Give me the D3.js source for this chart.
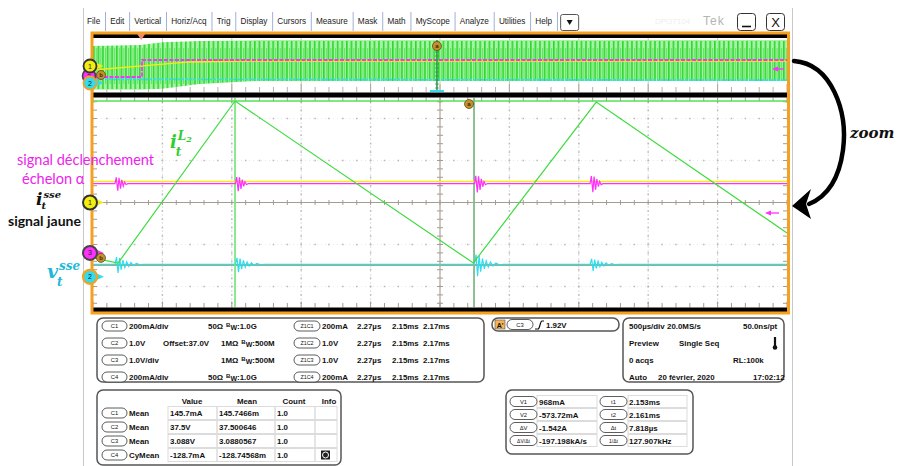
<!DOCTYPE html>
<html><head><meta charset="utf-8">
<script src="https://cdn.jsdelivr.net/npm/d3@7"></script>
<style>body{margin:0;background:#fff;overflow:hidden}svg{display:block;font-family:"Liberation Sans",Arial,sans-serif}</style>
</head><body><svg id="c" width="897" height="466"></svg>
<script>
// ---------------- DATA ----------------
const menuItems = ["File","Edit","Vertical","Horiz/Acq","Trig","Display","Cursors","Measure","Mask","Math","MyScope","Analyze","Utilities","Help"];
const zoomSpanUs = 22.7;            // 10 div x 2.27 µs/div
const overviewSpanMs = 5;           // 10 div x 500 µs/div
// main (zoom) window, values in divisions from screen centre
const greenTimeUs = [0, 0.82, 4.645, 12.44, 16.46, 22.7];
const greenDiv    = [-1.32, -1.44, 2.417, -1.44, 2.39, -0.726];
const yellowTimeUs = [0, 22.7];
const yellowDiv    = [0.50, 0.50];
const magentaLevel = 0.45;
const cyanLevel    = -1.47;
const burstTimesUs = [0.72, 4.66, 12.48, 16.26];
const magentaGain  = [1.0, 1.05, 1.25, 1.2];
const cyanGain     = [1.0, 0.9, 1.35, 0.75];
const ringOffsetsUs = [0, 0.04, 0.09, 0.13, 0.18, 0.22, 0.27, 0.31, 0.36, 0.42];
const magentaRing   = [0, 0.15, -0.17, 0.14, -0.12, 0.09, -0.06, 0.04, -0.02, 0];
const cyanOffsetsUs = [0, 0.05, 0.1, 0.15, 0.2, 0.26, 0.32, 0.38, 0.45, 0.52, 0.6, 0.7, 0.8, 0.95];
const cyanRing      = [0, 0.17, -0.21, 0.15, -0.13, 0.1, -0.08, 0.06, -0.05, 0.04, -0.03, 0.02, -0.01, 0];
const cursorTimesUs = [4.645, 12.463];
const cursorLevels  = [2.417, -1.488];
const markerLevels  = {c1: 0, c3: -1.2, c2: -1.77};
const trigArrowLevel = -0.25;
const cursorA_Us = 12.3;
// overview (500 µs/div), values in overview divisions
const ovEnvTimeMs = [0, 0.34, 0.5, 0.77, 1.13, 1.2, 5];
const ovEnvTop    = [3.5, 3.7, 4.2, 4.45, 4.6, 4.63, 4.63];
const ovEnvBottom = [-4.6, -4.6, -4.4, -3.5, -3.0, -2.96, -2.96];
const ovMagTimeMs = [0, 0.353, 0.353, 5];
const ovMagDiv    = [-2.22, -2.22, 0.93, 0.93];
const ovYelTimeMs = [0, 0.7, 1.13, 5];
const ovYelDiv    = [-0.93, 0.56, 0.74, 0.74];
const ovCyanTimeMs = [0, 5];
const ovCyanDiv    = [-2.65, -2.8];
const ovTrigMs = 0.347;
const ovZoomPosMs = 2.478;
// bottom panels
const chanRows = [
  ["C1","200mA/div","","50Ω","1.0G","Z1C1","200mA"],
  ["C2","1.0V","Offset:37.0V","1MΩ","500M","Z1C2","1.0V"],
  ["C3","1.0V/div","","1MΩ","500M","Z1C3","1.0V"],
  ["C4","200mA/div","","50Ω","1.0G","Z1C4","200mA"]];
const zoomCols = ["2.27µs","2.15ms","2.17ms"];
const trigLabel = ["A'","C3","1.92V"];
const horizRows = [["500µs/div","20.0MS/s","50.0ns/pt"],["Preview","Single Seq",""],["0 acqs","","RL:100k"],["Auto","20 février, 2020","17:02:12"]];
const measHeader = ["Value","Mean","Count","Info"];
const measRows = [["C1","Mean","145.7mA","145.7466m","1.0"],["C2","Mean","37.5V","37.500646","1.0"],["C3","Mean","3.088V","3.0880567","1.0"],["C4","CyMean","-128.7mA","-128.74568m","1.0"]];
const cursorRows = [["V1","968mA","t1","2.153ms"],["V2","-573.72mA","t2","2.161ms"],["ΔV","-1.542A","Δt","7.818µs"],["ΔV/Δt","-197.198kA/s","1/Δt","127.907kHz"]];

// ---------------- DRAW ----------------
const svg = d3.select("#c");
const X0 = 93, X1 = 787;
const mainX = d3.scaleLinear().domain([0, zoomSpanUs]).range([X0, X1]);
const mainY = d3.scaleLinear().domain([-2.5, 2.5]).range([307.5, 97.5]);
const divX  = d3.scaleLinear().domain([0, 10]).range([X0, X1]);
const ovX   = d3.scaleLinear().domain([0, overviewSpanMs]).range([X0, X1]);
const ovY   = d3.scaleLinear().domain([-5, 5]).range([92, 38]);
const C = {orange:"#f5a020", green:"#3ddc3d", yellow:"#f2ee10", magenta:"#ff30ff", cyan:"#30dcf0", grid:"#a39c90", dot:"#b9b9b9"};

svg.append("rect").attr("width",897).attr("height",466).attr("fill","#fff");
// window borders
svg.append("line").attr("x1",83.5).attr("x2",83.5).attr("y1",8).attr("y2",466).attr("stroke","#c8c8c8");
svg.append("line").attr("x1",792.5).attr("x2",792.5).attr("y1",8).attr("y2",466).attr("stroke","#c8c8c8");

// menu
const menu = svg.append("g").attr("font-size",8.2).attr("fill","#222");
let mx = 87;
menuItems.forEach((m,i) => {
  const t = menu.append("text").attr("x",mx).attr("y",24).text(m);
  const w = t.node().getComputedTextLength();
  mx += w + 4.8;
  menu.append("line").attr("x1",mx+0.5).attr("x2",mx+0.5).attr("y1",12).attr("y2",31).attr("stroke","#9fb2d6");
  mx += 5.2;
});
svg.append("rect").attr("x",mx-1.5).attr("y",14.5).attr("width",18).attr("height",16).attr("rx",2).attr("fill","#fff").attr("stroke","#555");
svg.append("path").attr("d",`M${mx+4.5},20 L${mx+10.5},20 L${mx+7.5},25Z`).attr("fill","#111");
svg.append("text").attr("x",655).attr("y",24).attr("font-size",8).attr("fill","#eeeeee").text("DPO7104");
svg.append("text").attr("x",703).attr("y",25).attr("font-size",12).attr("fill","#b4b4b4").attr("letter-spacing",1).text("Tek");
svg.append("rect").attr("x",737.5).attr("y",13.5).attr("width",18).attr("height",17).attr("rx",3).attr("fill","#fff").attr("stroke","#333");
svg.append("line").attr("x1",742).attr("x2",751).attr("y1",26.5).attr("y2",26.5).attr("stroke","#111").attr("stroke-width",1.6);
svg.append("rect").attr("x",766.5).attr("y",13.5).attr("width",18).attr("height",17).attr("rx",3).attr("fill","#fff").attr("stroke","#333");
svg.append("text").attr("x",775.5).attr("y",27).attr("text-anchor","middle").attr("font-size",13).attr("fill","#111").text("X");

// defs
const defs = svg.append("defs");
const pat = defs.append("pattern").attr("id","gs").attr("patternUnits","userSpaceOnUse").attr("width",4.6).attr("height",54).attr("x",X0).attr("y",38);
pat.append("rect").attr("width",4.6).attr("height",54).attr("fill","#a6f3a6");
pat.append("rect").attr("x",0).attr("y",3).attr("width",1.6).attr("height",48).attr("fill","#2ed82e");
pat.append("rect").attr("x",2.8).attr("y",10).attr("width",1.0).attr("height",36).attr("fill","#5ee25e");
defs.append("clipPath").attr("id","mclip").append("rect").attr("x",X0).attr("y",97.5).attr("width",X1-X0).attr("height",210);
defs.append("clipPath").attr("id","oclip").append("rect").attr("x",X0).attr("y",38).attr("width",X1-X0).attr("height",54);

// ---- overview ----
const ov = svg.append("g");
for (let i=1;i<10;i++) ov.append("line").attr("x1",divX(i)).attr("x2",divX(i)).attr("y1",38).attr("y2",92).attr("stroke","#bdb7ad").attr("stroke-width",0.8);
for (let i=0;i<=50;i++) { const x = X0 + i*(X1-X0)/50; ov.append("line").attr("x1",x).attr("x2",x).attr("y1",i%5?87:84).attr("y2",92).attr("stroke",C.grid).attr("stroke-width",0.8); }
const ovg = ov.append("g").attr("clip-path","url(#oclip)");
const env = ovEnvTimeMs.map((t,i)=>({t, a:ovEnvTop[i], b:ovEnvBottom[i]}));
ovg.append("path").datum(env).attr("fill","url(#gs)")
  .attr("d", d3.area().x(d=>ovX(d.t)).y0(d=>ovY(d.b)).y1(d=>ovY(d.a)));
const ovLine = d3.line().x(d=>ovX(d[0])).y(d=>ovY(d[1]));
ovg.append("path").datum(ovCyanTimeMs.map((t,i)=>[t,ovCyanDiv[i]])).attr("d",ovLine).attr("fill","none").attr("stroke",C.cyan).attr("stroke-width",1.6).attr("stroke-dasharray","3,1");
ovg.append("path").datum(ovYelTimeMs.map((t,i)=>[t,ovYelDiv[i]])).attr("d",ovLine).attr("fill","none").attr("stroke",C.yellow).attr("stroke-width",1.3);
ovg.append("path").datum(ovMagTimeMs.map((t,i)=>[t,ovMagDiv[i]])).attr("d",ovLine).attr("fill","none").attr("stroke",C.magenta).attr("stroke-width",1.8).attr("stroke-dasharray","4,1.5");
// zoom position line
const zx = ovX(ovZoomPosMs);
ov.append("line").attr("x1",zx).attr("x2",zx).attr("y1",40).attr("y2",91).attr("stroke","#2f9a4a").attr("stroke-width",1.6);
for (let i=0;i<12;i++) ov.append("line").attr("x1",zx-2).attr("x2",zx+2).attr("y1",44+i*4).attr("y2",44+i*4).attr("stroke","#2f9a4a").attr("stroke-width",0.7);
ov.append("line").attr("x1",zx-7).attr("x2",zx+7).attr("y1",91).attr("y2",91).attr("stroke",C.cyan).attr("stroke-width",2);
function smallMarker(g,x,y,l){ g.append("circle").attr("cx",x).attr("cy",y).attr("r",4.5).attr("fill","#c2902e").attr("stroke","#6a4a10").attr("stroke-width",0.8);
  g.append("text").attr("x",x).attr("y",y+2.2).attr("text-anchor","middle").attr("font-size",6).attr("font-weight","bold").attr("fill","#3a2a08").text(l); }
smallMarker(ov, zx, 46, "a");
// overview magenta level arrow
ov.append("path").attr("d","M772,69 L778,66.5 L778,71.5Z").attr("fill",C.magenta);
ov.append("line").attr("x1",777).attr("x2",784).attr("y1",69).attr("y2",69).attr("stroke",C.magenta).attr("stroke-width",1.3);

// ---- main grid ----
const mg = svg.append("g");
const yc = mainY(0), xc = divX(5);
const minX = (X1-X0)/50, minY = 42/5;
[1,2,3,4,6,7,8,9].forEach(i => {
  mg.append("line").attr("x1",divX(i)).attr("x2",divX(i)).attr("y1",98).attr("y2",307).attr("stroke","#d4d4d4").attr("stroke-width",0.8).attr("stroke-dasharray","2,2");
});
[-2,-1,1,2].forEach(v => {
  mg.append("line").attr("x1",X0).attr("x2",X1).attr("y1",mainY(v)).attr("y2",mainY(v)).attr("stroke","#dadada").attr("stroke-width",0.6).attr("stroke-dasharray","1,3");
  for (let k=0;k<=50;k++) mg.append("rect").attr("x",X0+k*minX-0.75).attr("y",mainY(v)-0.75).attr("width",1.5).attr("height",1.5).attr("fill",C.dot);
});
[1,2,3,4,6,7,8,9].forEach(i => {
  for (let v=-12;v<=12;v++) mg.append("rect").attr("x",divX(i)-0.75).attr("y",yc+v*minY-0.75).attr("width",1.5).attr("height",1.5).attr("fill",C.dot);
});
// centre cross
mg.append("line").attr("x1",X0).attr("x2",X1).attr("y1",yc).attr("y2",yc).attr("stroke",C.grid).attr("stroke-width",1.1);
mg.append("line").attr("x1",xc).attr("x2",xc).attr("y1",98).attr("y2",307).attr("stroke",C.grid).attr("stroke-width",1.1);
for (let k=0;k<=50;k++) { const x=X0+k*minX;
  mg.append("line").attr("x1",x).attr("x2",x).attr("y1",yc-2.5).attr("y2",yc+2.5).attr("stroke",C.grid);
  mg.append("line").attr("x1",x).attr("x2",x).attr("y1",97.5).attr("y2",k%5?101.5:103).attr("stroke",C.grid);
  mg.append("line").attr("x1",x).attr("x2",x).attr("y1",k%5?303:301.5).attr("y2",307.5).attr("stroke",C.grid); }
for (let v=-12;v<=12;v++) { const y=yc+v*minY;
  mg.append("line").attr("x1",xc-3).attr("x2",xc+3).attr("y1",y).attr("y2",y).attr("stroke",C.grid);
  mg.append("line").attr("x1",X0).attr("x2",X0+4).attr("y1",y).attr("y2",y).attr("stroke",C.grid);
  mg.append("line").attr("x1",X1-4).attr("x2",X1).attr("y1",y).attr("y2",y).attr("stroke",C.grid); }

// ---- main traces ----
const tr = svg.append("g").attr("clip-path","url(#mclip)");
const mLine = d3.line().x(d=>mainX(d[0])).y(d=>mainY(d[1]));
function withBursts(level, offs, ring, gains) {
  const pts = [[0, level]];
  burstTimesUs.forEach((tb,j) => offs.forEach((o,i) => pts.push([tb+o, level + ring[i]*gains[j]])));
  pts.push([zoomSpanUs, level]);
  return pts;
}
// cursors
tr.append("line").attr("x1",X0).attr("x2",X1).attr("y1",mainY(cursorLevels[0])).attr("y2",mainY(cursorLevels[0])).attr("stroke","#55e055").attr("stroke-width",1.6);
tr.append("line").attr("x1",X0).attr("x2",X1).attr("y1",mainY(cursorLevels[1])).attr("y2",mainY(cursorLevels[1])).attr("stroke","#8fb48f").attr("stroke-width",1.8);
tr.append("line").attr("x1",mainX(cursorTimesUs[0])).attr("x2",mainX(cursorTimesUs[0])).attr("y1",98).attr("y2",307).attr("stroke","#7de87d").attr("stroke-width",1.8);
tr.append("line").attr("x1",mainX(cursorTimesUs[1])).attr("x2",mainX(cursorTimesUs[1])).attr("y1",98).attr("y2",307).attr("stroke","#86b88a").attr("stroke-width",1.8);
tr.append("path").datum(withBursts(cyanLevel, cyanOffsetsUs, cyanRing, cyanGain)).attr("d",mLine).attr("fill","none").attr("stroke",C.cyan).attr("stroke-width",1.2);
tr.append("path").datum(yellowTimeUs.map((t,i)=>[t,yellowDiv[i]])).attr("d",mLine).attr("fill","none").attr("stroke",C.yellow).attr("stroke-width",1.5);
tr.append("path").datum(withBursts(magentaLevel, ringOffsetsUs, magentaRing, magentaGain)).attr("d",mLine).attr("fill","none").attr("stroke",C.magenta).attr("stroke-width",1.2);
tr.append("path").datum(greenTimeUs.map((t,i)=>[t,greenDiv[i]])).attr("d",mLine).attr("fill","none").attr("stroke",C.green).attr("stroke-width",1.2);
smallMarker(svg, mainX(cursorA_Us), 104, "a");
// trigger level arrow on right
const ta = mainY(trigArrowLevel);
svg.append("path").attr("d",`M765,${ta} L771,${ta-2.5} L771,${ta+2.5}Z`).attr("fill",C.magenta);
svg.append("line").attr("x1",770).attr("x2",779).attr("y1",ta).attr("y2",ta).attr("stroke",C.magenta).attr("stroke-width",1.3);

// ---- frame ----
svg.append("rect").attr("x",92).attr("y",34).attr("width",696).attr("height",4).attr("fill","#000");
svg.append("rect").attr("x",92).attr("y",92.5).attr("width",696).attr("height",5).attr("fill","#000");
svg.append("rect").attr("x",92).attr("y",307.5).attr("width",696).attr("height",4.5).attr("fill","#000");
svg.append("rect").attr("x",92).attr("y",33).attr("width",696.5).attr("height",280).attr("fill","none").attr("stroke",C.orange).attr("stroke-width",3);
// trigger position marker in overview
const tx = ovX(ovTrigMs);
svg.append("path").attr("d",`M${tx-4},34 L${tx+4},34 L${tx},40Z`).attr("fill","#f08a6a");

// ---- channel markers ----
function marker(x,y,fill,stroke,sw,label,r){
  svg.append("path").attr("d",`M${x+r-1},${y-3.5} L${x+r+7},${y} L${x+r-1},${y+3.5}Z`).attr("fill",fill);
  svg.append("circle").attr("cx",x).attr("cy",y).attr("r",r).attr("fill",fill).attr("stroke",stroke).attr("stroke-width",sw);
  svg.append("text").attr("x",x).attr("y",y+2.5).attr("text-anchor","middle").attr("font-size",7).attr("fill","#222").text(label);
}
// overview
marker(89,76,C.magenta,"#444",1.6,"3",6.5);
smallMarker(svg,101,75,"b");
marker(90,66,C.yellow,"#333",1.8,"1",6.5);
marker(90,83,C.cyan,"#f5a020",1.8,"2",6.5);
// main
marker(90,mainY(markerLevels.c1),C.yellow,"#333",2,"1",7);
marker(90,mainY(markerLevels.c3),C.magenta,"#444",2,"3",7);
smallMarker(svg,101,mainY(markerLevels.c3)+5,"b");
marker(90,mainY(markerLevels.c2),C.cyan,"#f5a020",2.2,"2",7);

// ---- annotations ----
const ann = svg.append("g").attr("font-family","Lato, 'Open Sans', sans-serif");
ann.append("text").attr("x",17).attr("y",165).attr("font-size",14.5).attr("fill","#ee22ee").text("signal déclenchement");
ann.append("text").attr("x",22).attr("y",184).attr("font-size",14.5).attr("fill","#ee22ee").text("échelon α");
ann.append("text").attr("x",8).attr("y",225.5).attr("font-size",14).attr("font-weight","bold").attr("fill","#111").text("signal jaune");
const mathF = "'DejaVu Serif', serif";
function mathSym(x,y,base,sup,sub,color,bs,ss,supDy,subDy){
  const g = svg.append("g").attr("font-family",mathF).attr("font-style","italic").attr("font-weight","bold").attr("fill",color);
  const b = g.append("text").attr("x",x).attr("y",y).attr("font-size",bs).text(base);
  const w = b.node().getComputedTextLength();
  g.append("text").attr("x",x+w+1).attr("y",y-supDy).attr("font-size",ss).html(sup);
  g.append("text").attr("x",x+w-1).attr("y",y+subDy).attr("font-size",ss).text(sub);
}
mathSym(36,204.5,"i","sse","t","#111",17,10,7,4);
mathSym(47,278,"v","sse","t","#22b8d8",19,12,8,8);
mathSym(170,148,"i","L<tspan font-size='8' dy='2'>2</tspan>","t","#33cc33",18,12,8,8);
// zoom arrow
svg.append("path").attr("d","M794,61 C832,64 848,112 843,150 C839,180 826,197 809,204").attr("fill","none").attr("stroke","#000").attr("stroke-width",4.5).attr("stroke-linecap","round");
svg.append("path").attr("d","M792,206 L811,189 L806,204 L811,219Z").attr("fill","#000");
svg.append("text").attr("x",850).attr("y",138).attr("font-family",mathF).attr("font-style","italic").attr("font-weight","bold").attr("font-size",15).attr("fill","#111").text("zoom");

// ---- bottom panels ----
const P = svg.append("g").attr("font-size",7.9).attr("font-weight","bold").attr("fill","#111");
function panel(x,y,w,h){ P.append("rect").attr("x",x).attr("y",y).attr("width",w).attr("height",h).attr("rx",6).attr("fill","#fff").attr("stroke","#555").attr("stroke-width",1.5); }
function pill(x,y,w,label,fs){ P.append("rect").attr("x",x).attr("y",y-5).attr("width",w).attr("height",10).attr("rx",5).attr("fill","#fff").attr("stroke","#333").attr("stroke-width",0.8);
  P.append("text").attr("x",x+w/2).attr("y",y+2).attr("text-anchor","middle").attr("font-size",fs||5.8).attr("font-weight","normal").text(label); }
function txt(x,y,s,anchor){ return P.append("text").attr("x",x).attr("y",y+3).attr("text-anchor",anchor||"start").text(s); }
function bw(x,y,val){ const t = P.append("text").attr("x",x).attr("y",y+3);
  t.append("tspan").attr("font-size",6).attr("dy",-2).text("B"); t.append("tspan").attr("font-size",7).attr("dy",3).text("W");
  t.append("tspan").attr("dy",-1).text(":"+val); }
panel(97,318,387,64);
chanRows.forEach((r,i)=>{ const y=326+i*17;
  pill(102,y,25,r[0]); txt(129,y,r[1]); if(r[2]) txt(163,y,r[2]);
  const imp = txt(r[3]==="50Ω"?208:221,y,r[3]);
  bw((r[3]==="50Ω"?208:221)+imp.node().getComputedTextLength()+3,y,r[4]);
  pill(294,y,26,r[5],5.4); txt(322,y,r[6]);
  zoomCols.forEach((z,j)=>txt([357,392,423][j],y,z)); });
panel(492,318,127,13);
P.append("rect").attr("x",495).attr("y",320).attr("width",10).attr("height",9).attr("fill","#f6b35a").attr("stroke","#555").attr("stroke-width",0.6);
P.append("text").attr("x",500).attr("y",327.5).attr("text-anchor","middle").attr("font-size",7).text(trigLabel[0]);
pill(507,324.5,26,trigLabel[1]);
P.append("path").attr("d","M535,329 L538,329 C540,329 540,321 542,321 L544,321").attr("fill","none").attr("stroke","#111").attr("stroke-width",1.2);
txt(546,324.5,trigLabel[2]);
panel(623,318,161,64);
horizRows.forEach((r,i)=>{ const y=326+i*17;
  txt(629,y,r[0]);
  if(r[1]) txt(i===3?658:(i===1?679:667),y,r[1]);
  if(r[2]) txt(i===2?733:(i===3?753:743),y,r[2]); });
P.append("line").attr("x1",775).attr("x2",775).attr("y1",337).attr("y2",346).attr("stroke","#111").attr("stroke-width",2.2);
P.append("circle").attr("cx",775).attr("cy",347.5).attr("r",2.3).attr("fill","#111");
panel(97,390,244,75);
[192,247,294,329].forEach((cx,j)=>txt(cx,401,measHeader[j],"middle"));
const colB=[168,217,275,315,337];
measRows.forEach((r,i)=>{ const y=413+i*14;
  for(let c=0;c<4;c++) P.append("rect").attr("x",colB[c]).attr("y",y-6.5).attr("width",colB[c+1]-colB[c]).attr("height",13).attr("fill","none").attr("stroke","#dcdcdc").attr("stroke-width",1);
  pill(102,y,25,r[0]); txt(129,y,r[1]); txt(170,y,r[2]); txt(219,y,r[3]); txt(277,y,r[4]); });
P.append("rect").attr("x",321).attr("y",450.5).attr("width",9).attr("height",9).attr("fill","#222");
P.append("circle").attr("cx",325.5).attr("cy",455).attr("r",3).attr("fill","none").attr("stroke","#fff").attr("stroke-width",1);
panel(506,390,187,64);
cursorRows.forEach((r,i)=>{ const y=401.5+i*13;
  P.append("rect").attr("x",537).attr("y",y-6).attr("width",60).attr("height",12).attr("fill","none").attr("stroke","#dcdcdc");
  P.append("rect").attr("x",628).attr("y",y-6).attr("width",59).attr("height",12).attr("fill","none").attr("stroke","#dcdcdc");
  pill(510,y,27,r[0],i===3?5:5.8); txt(539,y,r[1]); pill(600,y,27,r[2],i===3?5:5.8); txt(629,y,r[3]); });
</script></body></html>
